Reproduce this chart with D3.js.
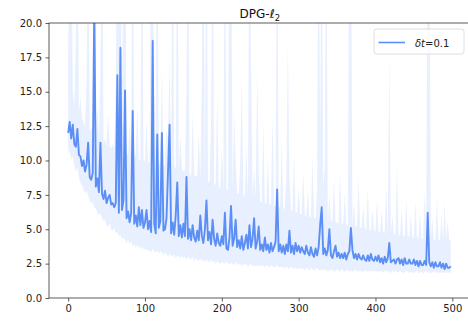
<!DOCTYPE html>
<html>
<head>
<meta charset="utf-8">
<script src="https://cdn.jsdelivr.net/npm/d3@7"></script>
<style>
  html, body { margin: 0; padding: 0; background: #fff; }
  svg { display: block; font-family: "DejaVu Sans", sans-serif; }
</style>
</head>
<body>
<svg id="chart" width="468" height="326"></svg>
<script>
// ---- data (episode index step 2) ----
const stepIdx = d3.range(0, 500, 2);
const meanVals = [
12.0,12.8,11.6,12.6,11.2,11.0,12.3,10.4,10.3,9.6,10.0,9.2,9.7,11.3,8.8,8.6,9.1,21.5,8.1,8.7,7.7,11.3,7.6,7.2,7.8,6.9,
7.3,7.5,6.8,6.9,6.6,6.9,16.2,6.2,18.2,6.4,7.1,15.1,5.8,6.3,5.5,6.2,13.6,5.4,6.0,5.2,6.6,5.3,6.4,5.1,5.5,
6.4,5.0,5.6,4.8,18.7,5.4,4.7,11.9,5.1,5.6,12.0,4.9,5.0,5.8,9.2,12.6,4.7,5.5,4.6,6.0,8.4,4.5,5.3,4.4,5.4,
4.5,8.8,4.3,5.0,4.2,5.3,4.4,4.1,4.9,4.2,6.0,4.5,4.0,5.0,7.1,4.2,4.8,3.9,5.7,4.3,3.8,4.7,4.0,3.8,4.5,
3.9,6.2,3.6,3.5,4.4,6.7,3.8,4.3,5.7,3.7,4.2,3.6,4.5,3.5,4.0,4.6,3.6,5.3,3.7,4.3,5.8,3.6,4.1,5.2,3.5,
3.9,3.4,4.4,3.5,3.9,3.3,4.0,3.4,3.7,4.1,7.9,3.4,3.9,3.3,3.8,3.2,3.9,3.4,4.9,3.3,3.8,3.2,4.0,3.4,3.8,
3.3,3.7,3.4,3.2,3.8,3.3,3.1,3.7,3.2,3.0,3.6,3.1,3.7,5.3,6.6,3.2,3.6,3.1,3.5,5.0,3.1,2.9,3.4,3.8,3.0,
3.3,2.9,3.2,2.9,3.3,2.8,3.2,3.4,5.1,3.5,2.9,3.2,2.8,3.2,2.9,2.8,3.1,2.8,2.7,3.1,2.7,3.2,2.8,2.7,3.0,
2.7,3.1,2.6,2.9,2.5,3.0,2.6,2.9,4.0,2.6,2.7,2.8,2.5,2.8,2.9,2.5,2.8,2.4,2.9,2.5,2.5,2.8,2.5,2.5,2.8,
2.4,2.7,2.3,2.7,2.4,2.4,2.7,2.4,6.2,2.6,2.3,2.6,2.2,2.6,2.3,2.3,2.6,2.2,2.5,2.1,2.5,2.2,2.2,2.3
];
const lowerVals = [
10.4,10.8,10.1,10.3,9.6,9.2,9.5,8.7,8.4,8.2,7.9,7.6,7.8,7.4,7.1,6.9,7.0,6.6,6.5,6.2,6.0,6.2,5.8,5.6,5.7,5.3,
5.2,5.4,5.0,4.9,5.1,4.7,4.8,4.5,4.6,4.3,4.4,4.2,4.0,4.3,3.9,4.1,3.8,3.9,3.7,3.9,3.6,3.8,3.5,3.7,3.5,
3.6,3.4,3.5,3.3,3.6,3.4,3.3,3.5,3.2,3.4,3.3,3.1,3.3,3.2,3.0,3.2,3.1,3.0,3.2,2.9,3.1,3.0,2.9,3.1,2.9,
3.0,2.8,3.0,2.9,2.8,3.0,2.7,2.9,2.8,2.7,2.9,2.7,2.8,2.6,2.8,2.7,2.6,2.8,2.6,2.7,2.5,2.7,2.6,2.5,2.6,
2.6,2.5,2.7,2.5,2.4,2.6,2.5,2.4,2.6,2.5,2.4,2.5,2.3,2.5,2.4,2.5,2.3,2.4,2.5,2.3,2.4,2.3,2.4,2.3,2.4,
2.3,2.4,2.2,2.4,2.3,2.2,2.4,2.3,2.2,2.3,2.4,2.2,2.3,2.2,2.3,2.1,2.3,2.2,2.1,2.3,2.2,2.1,2.2,2.1,2.2,
2.1,2.2,2.1,2.0,2.2,2.1,2.0,2.2,2.1,2.0,2.1,2.2,2.0,2.1,2.0,2.1,2.0,2.1,1.9,2.1,2.0,2.1,1.9,2.0,2.1,
2.0,1.9,2.1,2.0,1.9,2.0,2.1,1.9,2.0,1.9,2.0,2.1,1.9,2.0,1.9,2.0,1.9,2.0,2.0,1.9,2.0,1.9,2.0,1.9,2.0,
1.9,2.0,1.9,2.0,1.8,2.0,1.9,2.0,1.9,1.8,2.0,1.9,2.0,1.8,1.9,2.0,1.9,1.8,1.9,2.0,1.9,1.8,1.9,1.9,1.8,
1.9,2.0,1.8,1.9,1.9,1.8,1.9,2.0,1.8,1.9,1.8,1.9,1.9,1.8,1.9,1.8,1.9,1.8,1.9,1.8,1.9,1.8,1.9,1.8
];
const upperVals = [
17.5,30,30,15.2,14.0,18.5,30,13.4,14.6,13.0,12.8,12.5,15.8,30,12.1,12.4,11.9,30,11.8,13.9,11.5,16.5,30,11.2,11.6,11.0,
13.5,11.0,10.9,11.2,10.8,15.4,30,30,30,10.7,30,30,10.6,10.4,12.8,10.3,30,10.2,10.5,14.0,10.1,10.0,30,10.1,9.9,
13.0,9.8,9.9,30,30,9.8,12.0,30,9.7,9.9,16.8,9.6,9.7,12.2,11.5,17.5,9.5,30,9.6,9.4,30,9.3,11.8,9.4,9.2,
9.3,15.0,30,9.0,8.9,13.5,9.0,8.8,8.9,12.0,8.7,15.8,30,8.6,30,8.4,8.5,12.5,30,8.3,8.2,14.8,8.1,8.0,11.0,
7.9,30,7.9,7.8,30,30,7.7,13.5,10.0,7.6,7.6,9.8,16.0,7.5,7.4,11.0,7.4,30,17.3,7.3,9.5,7.2,16.6,9.0,7.0,
7.0,12.8,6.9,6.9,10.2,6.8,6.8,13.5,6.7,6.7,30,6.6,6.6,11.5,6.5,6.5,8.8,18.5,9.0,6.4,6.3,10.5,6.3,6.2,8.0,
6.1,6.1,9.2,6.0,6.0,7.8,5.9,5.9,10.4,5.8,5.8,8.0,30,12.0,30,8.0,9.5,30,5.6,7.5,5.6,5.6,8.8,5.5,5.5,
5.5,9.3,5.4,5.4,7.6,5.3,5.3,30,30,5.3,7.0,5.2,5.2,8.8,5.1,5.1,6.8,5.0,5.0,8.0,5.0,4.9,6.5,4.9,4.9,
7.2,4.8,4.8,6.3,4.8,4.7,8.2,4.7,17.8,4.7,6.0,4.6,4.6,9.6,4.6,4.6,6.4,4.5,4.5,7.2,4.5,4.5,6.0,4.4,4.4,
7.0,4.4,4.4,6.2,4.3,4.3,7.8,4.3,30,30,4.3,5.8,4.2,4.2,7.2,4.2,4.2,6.0,4.2,7.0,4.2,5.6,4.2,4.2
];
const xTicks = [0, 100, 200, 300, 400, 500];
const yTicks = [0, 2.5, 5, 7.5, 10, 12.5, 15, 17.5, 20];
const legendLabel = "δt=0.1";

// ---- chart ----
const svg = d3.select("#chart");
const L = 49, R = 470.7, T = 23, B = 298;
const x = d3.scaleLinear().domain([-24.95, 523.95]).range([L, R]);
const y = d3.scaleLinear().domain([0, 20]).range([B, T]);
const lineColor = "#5b8ff5";

const data = stepIdx.map((s, i) => ({ s, m: meanVals[i], lo: lowerVals[i], hi: upperVals[i] }));

svg.append("defs").append("clipPath").attr("id", "clip")
  .append("rect").attr("x", L).attr("y", T).attr("width", R - L).attr("height", B - T);

const plot = svg.append("g").attr("clip-path", "url(#clip)");
plot.append("path").datum(data)
  .attr("d", d3.area().x(d => x(d.s)).y0(d => y(d.lo)).y1(d => y(d.hi)))
  .attr("fill", lineColor).attr("fill-opacity", 0.14).attr("stroke", "none");
plot.append("path").datum(data)
  .attr("d", d3.line().x(d => x(d.s)).y(d => y(d.m)))
  .attr("fill", "none").attr("stroke", lineColor).attr("stroke-width", 1.9)
  .attr("stroke-linejoin", "round");

// axes
const xAxis = svg.append("g").attr("transform", `translate(0,${B})`)
  .call(d3.axisBottom(x).tickValues(xTicks).tickSize(3.5).tickPadding(3.5).tickFormat(d3.format("d")));
const yAxis = svg.append("g").attr("transform", `translate(${L},0)`)
  .call(d3.axisLeft(y).tickValues(yTicks).tickSize(3.5).tickPadding(3.5).tickFormat(d3.format(".1f")));
[xAxis, yAxis].forEach(g => {
  g.select(".domain").remove();
  g.selectAll("line").attr("stroke", "#333").attr("stroke-width", 0.8);
  g.selectAll("text").attr("font-size", 10).attr("fill", "#222")
    .attr("font-family", "DejaVu Sans, sans-serif");
});
// spines
svg.append("rect").attr("x", L).attr("y", T).attr("width", R - L).attr("height", B - T)
  .attr("fill", "none").attr("stroke", "#333").attr("stroke-width", 0.8);

// title
const title = svg.append("text").attr("x", (L + R) / 2).attr("y", 18)
  .attr("text-anchor", "middle").attr("font-size", 12).attr("fill", "#111");
title.append("tspan").text("DPG-");
title.append("tspan").attr("font-style", "italic").text("ℓ");
title.append("tspan").attr("font-size", 8.5).attr("dy", 3).text("2");

// legend
const lg = svg.append("g").attr("transform", "translate(374,29)");
lg.append("rect").attr("width", 90).attr("height", 25).attr("rx", 2.5)
  .attr("fill", "#fff").attr("fill-opacity", 0.8).attr("stroke", "#d6d6d6").attr("stroke-width", 0.8);
lg.append("line").attr("x1", 4.5).attr("x2", 31).attr("y1", 13.5).attr("y2", 13.5)
  .attr("stroke", lineColor).attr("stroke-width", 1.6);
const lt = lg.append("text").attr("x", 41).attr("y", 17.5).attr("font-size", 10).attr("fill", "#222");
lt.append("tspan").attr("font-style", "italic").text(legendLabel.slice(0, 2));
lt.append("tspan").text(legendLabel.slice(2));
</script>
</body>
</html>
